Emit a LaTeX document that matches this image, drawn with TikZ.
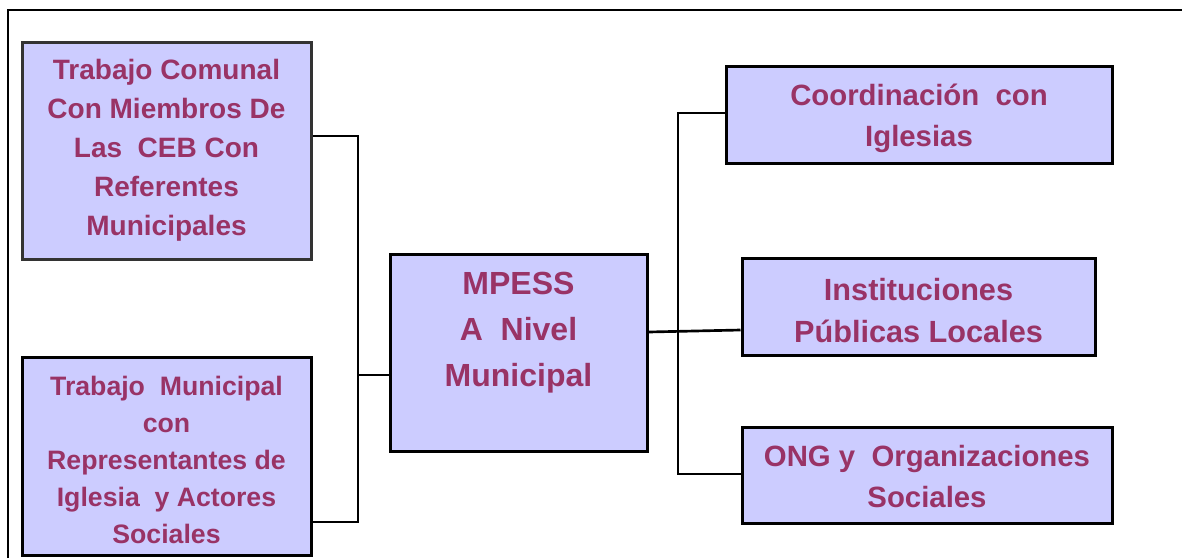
\documentclass[tikz,border=0pt]{standalone}
\usepackage{fontspec}
\setmainfont{Liberation Sans}
\definecolor{boxfill}{HTML}{CCCCFF}
\definecolor{txtc}{HTML}{993366}
\definecolor{darkedge}{HTML}{333333}
\tikzset{
  box/.style={draw=black, line width=2.25pt, fill=boxfill, inner sep=0pt,
    text=txtc, align=center},
  lbl/.style={text=txtc, align=center, inner sep=0pt},
  smalltxt/.style={font=\fontsize{21}{29.25}\selectfont\bfseries},
  midtxt/.style={font=\fontsize{20}{27.75}\selectfont\bfseries},
  bigtxt/.style={font=\fontsize{22}{30.75}\selectfont\bfseries},
  insttxtstyle/.style={font=\fontsize{23}{31.5}\selectfont\bfseries},
  hugetxt/.style={font=\fontsize{24}{34.5}\selectfont\bfseries},
  conn/.style={draw=black, line width=2pt},
  frame/.style={draw=black, line width=1.5pt}
}
\begin{document}
\begin{tikzpicture}[x=0.75pt,y=-0.75pt]
\useasboundingbox (0,0) rectangle (1182,558);
\draw[frame] (8,558) -- (8,10) -- (1182,10);

% boxes
\node[box, draw=darkedge, minimum width=216.75pt, minimum height=162.75pt] (comunal) at (166.5,150.5) {};
\node[box, minimum width=216.75pt, minimum height=148.5pt] (municipal) at (166.5,456) {};
\node[box, minimum width=192.75pt, minimum height=147.75pt] (mpess) at (518.5,352.5) {};
\node[box, minimum width=289.5pt, minimum height=72.75pt] (coord) at (919,114.5) {};
\node[box, minimum width=264.75pt, minimum height=72.75pt] (inst) at (918.5,306.5) {};
\node[box, minimum width=277.5pt, minimum height=72pt] (ong) at (927,475) {};

% texts
\node[lbl, smalltxt] (comunaltxt) at (166.5,150)
  {Trabajo Comunal\\Con Miembros De\\Las~ CEB Con\\Referentes\\Municipales};
\node[lbl, midtxt] (municipaltxt) at (166.5,460)
  {Trabajo~ Municipal\\con\\Representantes de\\Iglesia~ y Actores\\Sociales};
\node[lbl, hugetxt] (mpesstxt) at (518.5,333)
  {MPESS\\A~ Nivel\\Municipal};
\node[lbl, bigtxt] (coordtxt) at (919,118.5)
  {Coordinación~ con\\Iglesias};
\node[lbl, insttxtstyle] (insttxt) at (918.5,311)
  {Instituciones\\Públicas Locales};
\node[lbl, bigtxt] (ongtxt) at (927,476.5)
  {ONG y~ Organizaciones\\Sociales};

% connectors
\coordinate (ltop) at (358,136);
\coordinate (lmid) at (358,375);
\coordinate (lbot) at (358,522);
\coordinate (rtop) at (678,113);
\coordinate (rbot) at (678,474);
\coordinate (mr) at (647,332);
\coordinate (ir) at (742,330);

\draw[conn] (comunal.east |- ltop) -- (ltop) -- (lbot) -- (municipal.east |- lbot);
\draw[conn] (lmid) -- (mpess.west |- lmid);
\draw[conn] (coord.west |- rtop) -- (rtop) -- (rbot) -- (ong.west |- rbot);
\draw[conn] (mpess.east |- mr) -- (inst.west |- ir);
\end{tikzpicture}
\end{document}
